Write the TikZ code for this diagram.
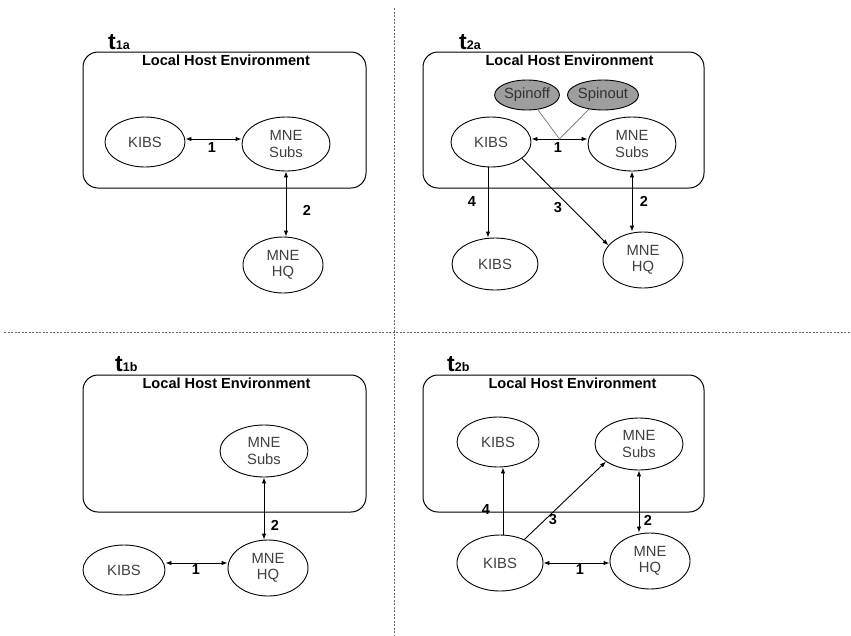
\documentclass[tikz,border=0pt]{standalone}
\usepackage{fontspec}
\setmainfont{Liberation Sans}
\usetikzlibrary{positioning,shapes.geometric,arrows.meta}

\newcommand{\period}[1]{{\bfseries\fontsize{23}{23}\selectfont t}{\bfseries\fontsize{12.5}{12.5}\selectfont #1}}

\tikzset{
  env/.style={draw, rounded corners=15pt, line width=1pt},
  envtitle/.style={anchor=north, font=\bfseries\fontsize{14.6}{14.6}\selectfont},
  actor/.style={draw, ellipse, inner sep=0pt, line width=0.9pt, align=center, text=black!75,
    font=\fontsize{14.8}{16.5}\selectfont},
  spin/.style={actor, fill=black!38, text=black!80},
  link/.style={line width=0.9pt, -{Latex[length=6pt,width=4.5pt]}},
  biglink/.style={line width=0.9pt, {Latex[length=6pt,width=4.5pt]}-{Latex[length=6pt,width=4.5pt]}},
  num/.style={font=\bfseries\fontsize{14.5}{14.5}\selectfont},
  divider/.style={black!60, line width=0.9pt, dash pattern=on 2pt off 1.5pt}
}

\begin{document}
\begin{tikzpicture}[x=1pt, y=-1pt]
  \useasboundingbox (0,0) rectangle (851,635);

  \coordinate (vtop) at (394,8);
  \coordinate (vbot) at (394,635);
  \coordinate (hleft) at (4,332);
  \coordinate (hright) at (851,332);
  \draw[divider] (vtop) -- (vbot);
  \draw[divider] (hleft) -- (hright);

  % t1a
  \node[anchor=base west, inner sep=0pt] (tA) at (108,49) {\period{1a}};
  \node[env, minimum width=283pt, minimum height=136pt] (hostA) at (224.5,120) {};
  \node[envtitle] (titleA) at ([xshift=1.5pt]hostA.north) {Local Host Environment};
  \node[actor, minimum width=80pt, minimum height=50pt] (kibsA) at (145,142) {KIBS};
  \node[actor, minimum width=88pt, minimum height=54pt] (subsA) at (286,144) {MNE\\Subs};
  \node[actor, minimum width=80pt, minimum height=56pt] (hqA) at (283,265) {MNE\\HQ};
  \draw[biglink] ([yshift=3pt]kibsA.east) -- ([yshift=3pt]kibsA.east -| subsA.west);
  \draw[biglink] (subsA.south) -- (subsA.south |- hqA.north);
  \node[num] (oneA) at (212,148) {1};
  \node[num] (twoA) at (307,210) {2};

  % t2a
  \node[anchor=base west, inner sep=0pt] (tB) at (459,49) {\period{2a}};
  \node[env, minimum width=281pt, minimum height=136pt] (hostB) at (563.5,120) {};
  \node[envtitle] (titleB) at ([xshift=6pt]hostB.north) {Local Host Environment};
  \node[spin, minimum width=52pt, minimum height=30pt] (spinoffB) at (527,95) {Spinoff};
  \node[spin, minimum width=58pt, minimum height=30pt] (spinoutB) at (603,95) {Spinout};
  \node[actor, minimum width=80pt, minimum height=50pt] (kibsB) at (491,142) {KIBS};
  \node[actor, minimum width=88pt, minimum height=54pt] (subsB) at (632,144) {MNE\\Subs};
  \node[actor, minimum width=86pt, minimum height=52pt] (kibs2B) at (495,264) {KIBS};
  \node[actor, minimum width=80pt, minimum height=56pt] (hqB) at (643,260) {MNE\\HQ};
  \draw[biglink] ([yshift=3pt]kibsB.east) -- coordinate[pos=0.5] (joinB) ([yshift=3pt]kibsB.east -| subsB.west);
  \draw[black!55, line width=0.7pt] (spinoffB) -- (joinB) -- (spinoutB);
  \draw[biglink] (subsB.south) -- (subsB.south |- hqB.north);
  \draw[link] ([xshift=-3pt]kibsB.south) -- ([xshift=-3pt]kibsB.south |- kibs2B.north);
  \draw[link] (kibsB.-28) -- (hqB.157);
  \node[num] (oneB) at (558,148) {1};
  \node[num] (twoB) at (644,201) {2};
  \node[num] (threeB) at (558,208) {3};
  \node[num] (fourB) at (472,202) {4};

  % t1b
  \node[anchor=base west, inner sep=0pt] (tC) at (115,371) {\period{1b}};
  \node[env, minimum width=283pt, minimum height=137pt] (hostC) at (224.5,443.5) {};
  \node[envtitle] (titleC) at ([xshift=2pt]hostC.north) {Local Host Environment};
  \node[actor, minimum width=88pt, minimum height=52pt] (subsC) at (264,451) {MNE\\Subs};
  \node[actor, minimum width=80pt, minimum height=56pt] (hqC) at (268,568) {MNE\\HQ};
  \node[actor, minimum width=82pt, minimum height=50pt] (kibsC) at (124,570) {KIBS};
  \draw[biglink] (subsC.south) -- (subsC.south |- hqC.north);
  \draw[biglink] ([yshift=7pt]kibsC.east) -- ([yshift=7pt]kibsC.east -| hqC.west);
  \node[num] (oneC) at (196,570) {1};
  \node[num] (twoC) at (275,525) {2};

  % t2b
  \node[anchor=base west, inner sep=0pt] (tD) at (447,371) {\period{2b}};
  \node[env, minimum width=281pt, minimum height=137pt] (hostD) at (563.5,443.5) {};
  \node[envtitle] (titleD) at ([xshift=9pt]hostD.north) {Local Host Environment};
  \node[actor, minimum width=82pt, minimum height=50pt] (kibsTopD) at (498,442) {KIBS};
  \node[actor, minimum width=88pt, minimum height=52pt] (subsD) at (639,444) {MNE\\Subs};
  \node[actor, minimum width=86pt, minimum height=56pt] (kibsBotD) at (500,563) {KIBS};
  \node[actor, minimum width=80pt, minimum height=56pt] (hqD) at (650,561) {MNE\\HQ};
  \draw[link] ([xshift=3pt]kibsBotD.north) -- ([xshift=3pt]kibsBotD.north |- kibsTopD.south);
  \draw[link] (kibsBotD.44) -- (subsD.208);
  \draw[biglink] (subsD.south) -- (subsD.south |- hqD.north);
  \draw[biglink] (kibsBotD.east) -- (kibsBotD.east -| hqD.west);
  \node[num] (oneD) at (580,570) {1};
  \node[num] (twoD) at (648,520) {2};
  \node[num] (threeD) at (553,520) {3};
  \node[num] (fourD) at (486,510) {4};
\end{tikzpicture}
\end{document}
